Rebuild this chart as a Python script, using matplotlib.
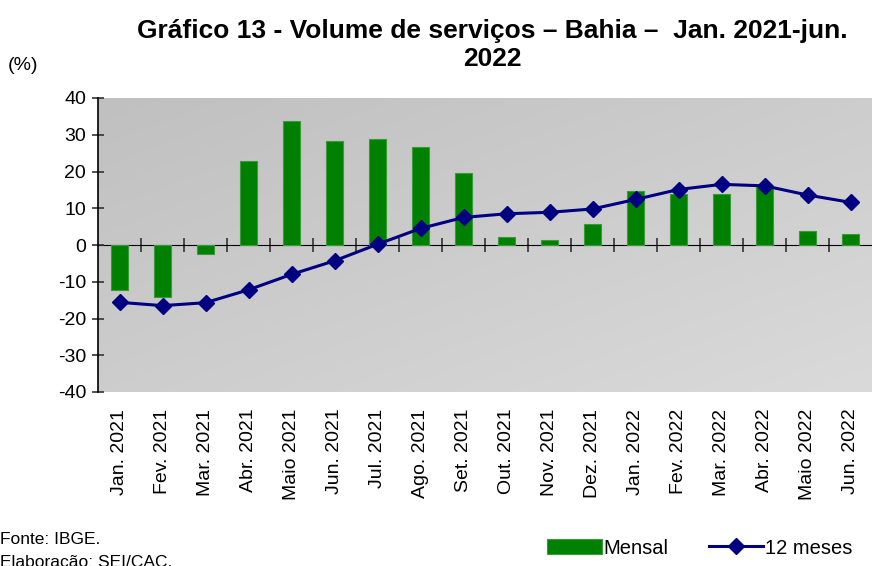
import matplotlib.pyplot as plt
import numpy as np
from matplotlib.colors import LinearSegmentedColormap

plt.rcParams['font.family'] = ['Liberation Sans', 'DejaVu Sans']
plt.rcParams['axes.unicode_minus'] = False

meses = ['Jan. 2021', 'Fev. 2021', 'Mar. 2021', 'Abr. 2021', 'Maio 2021', 'Jun. 2021',
         'Jul. 2021', 'Ago. 2021', 'Set. 2021', 'Out. 2021', 'Nov. 2021', 'Dez. 2021',
         'Jan. 2022', 'Fev. 2022', 'Mar. 2022', 'Abr. 2022', 'Maio 2022', 'Jun. 2022']
mensal = [-12.2, -14.2, -2.4, 22.8, 33.7, 28.2, 28.8, 26.7, 19.6,
          2.2, 1.3, 5.7, 14.6, 13.9, 13.9, 15.7, 3.9, 3.0]
doze_meses = [-15.6, -16.5, -15.7, -12.2, -8.0, -4.3, 0.2, 4.5, 7.5,
              8.5, 8.9, 9.8, 12.4, 15.1, 16.5, 16.1, 13.6, 11.6]

x = np.arange(len(meses))

fig = plt.figure(figsize=(8.72, 5.66), dpi=100)
ax = fig.add_axes([98/872, 1 - 392/566, 774/872, 294/566])

# fundo em degradê
cinza = LinearSegmentedColormap.from_list('cinza', ['#c0c0c0', '#dadada'])
grad = np.add.outer(np.linspace(0, 1, 100), np.linspace(0, 1, 100)) / 2
ax.imshow(grad, cmap=cinza, vmin=0, vmax=1, extent=[0, 1, 0, 1],
          transform=ax.transAxes, aspect='auto', zorder=0, origin='upper')

ax.bar(x, mensal, width=0.4, color='#008000', edgecolor='#3a9a3a', linewidth=0.8,
       zorder=2, label='Mensal')
ax.plot(x, doze_meses, color='#000080', linewidth=2.2, marker='D', markersize=8,
        zorder=4, label='12 meses')

ax.set_xlim(-0.5, len(meses) - 0.5)
ax.set_ylim(-40, 40)
ax.set_yticks(range(-40, 41, 10))
ax.tick_params(axis='y', direction='inout', length=9, width=1.2, color='#333333',
               labelsize=14, pad=4)
ax.set_xticks(x)
ax.set_xticklabels(meses, rotation=90, fontsize=14)
ax.tick_params(axis='x', length=0, pad=12)
for s in ['top', 'right', 'bottom']:
    ax.spines[s].set_visible(False)
ax.spines['left'].set_linewidth(1.2)

# linha do zero com marcas entre as categorias
zx = ax.secondary_xaxis(0.5)
zx.set_xticks(np.arange(0.5, len(meses) - 1, 1.0))
zx.set_xticklabels([])
zx.tick_params(direction='inout', length=10, width=1.2, color='#333333')
zx.spines['bottom'].set_linewidth(1.5)

fig.text(492/872, 1 - 45/566, 'Gráfico 13 - Volume de serviços – Bahia –  Jan. 2021-jun.\n2022',
         ha='center', va='center', fontsize=19, fontweight='bold', linespacing=1.2)
fig.text(8/872, 1 - 66/566, '(%)', fontsize=14, va='center')
fig.text(0, 1 - 540/566, 'Fonte: IBGE.', fontsize=12.5, va='center')
fig.text(0, 1 - 563/566, 'Elaboração: SEI/CAC.', fontsize=12.5, va='center')

h, l = ax.get_legend_handles_labels()
fig.legend(h[::-1], l[::-1], loc='center', bbox_to_anchor=(700/872, 1 - 548/566), ncol=2,
           frameon=False, fontsize=14.5, handlelength=2.7, columnspacing=2.0, handletextpad=0.1)

fig.savefig('out.png', dpi=100)
